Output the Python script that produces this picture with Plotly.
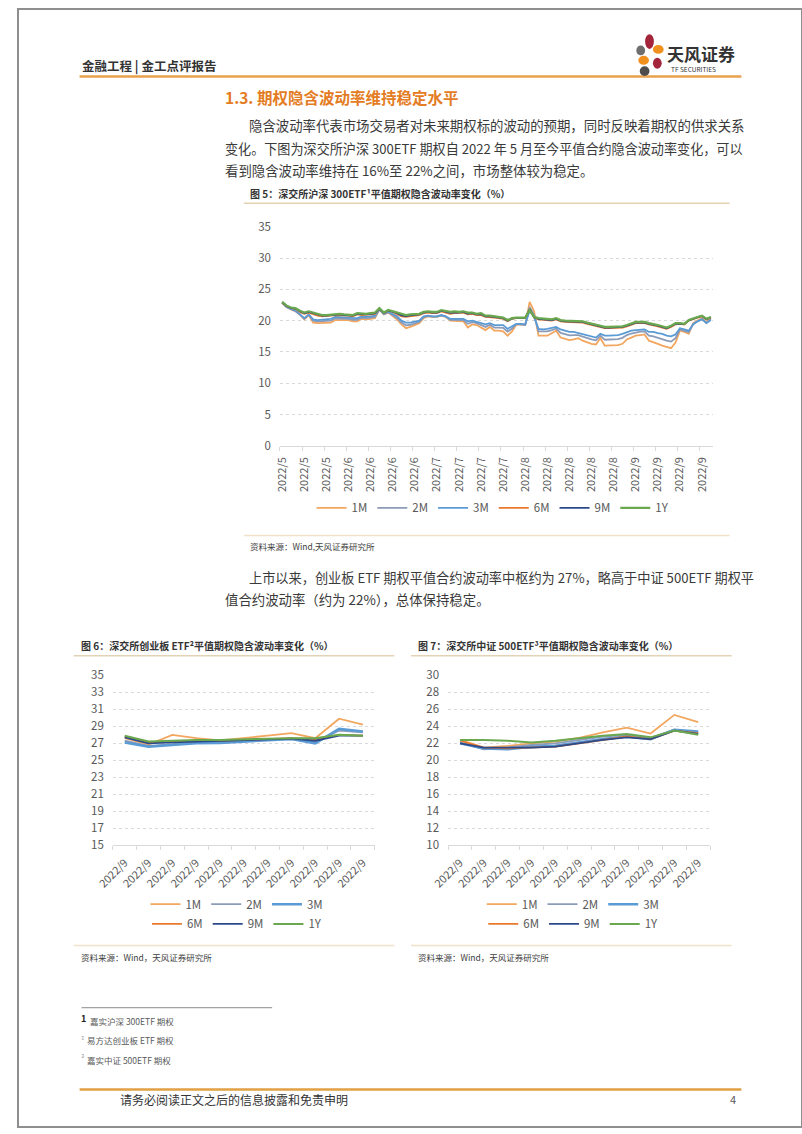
import plotly.graph_objects as go

W, H = 802, 1134
FONT = "Noto Sans CJK SC, Noto Sans, sans-serif"


def px(x):
    return x / W


def py(y):
    return 1 - y / H


# ---------------- data: chart 5 (300ETF, ~98 trading days) ----------------
x300 = list(range(98))
month_labels_300 = ["2022/5"] * 3 + ["2022/6"] * 4 + ["2022/7"] * 4 + ["2022/8"] * 5 + ["2022/9"] * 4
tick_pos_300 = list(range(0, 98, 5))

s300_1M = [22.8, 22.2, 21.8, 21.5, 21.0, 20.2, 20.9, 19.7, 19.6, 19.6,
           19.6, 19.7, 20.1, 20.1, 20.0, 20.1, 19.9, 19.9, 20.3, 20.2,
           20.3, 20.4, 21.8, 21.0, 21.3, 20.8, 20.2, 19.4, 18.8, 19.0,
           19.3, 19.6, 20.4, 20.7, 20.6, 20.6, 20.8, 20.6, 20.0, 20.0,
           20.0, 19.9, 18.9, 19.4, 19.3, 18.9, 18.5, 19.0, 18.4, 18.4,
           18.3, 17.6, 18.3, 19.4, 19.4, 19.3, 23.0, 21.5, 17.6, 17.6,
           17.6, 18.0, 18.4, 17.3, 17.1, 16.9, 17.0, 17.2, 16.8, 16.5,
           16.3, 16.2, 17.2, 16.0, 16.0, 16.0, 16.1, 16.3, 17.0, 17.3,
           17.6, 17.7, 17.8, 16.8, 16.6, 16.3, 16.0, 15.8, 15.6, 16.5,
           18.4, 18.2, 17.9, 19.6, 20.0, 20.4, 19.7, 20.4]
s300_2M = [22.85, 22.2, 21.85, 21.55, 21.0, 20.3, 20.95, 20.0, 19.9, 19.9,
           19.9, 20.0, 20.35, 20.35, 20.25, 20.3, 20.15, 20.15, 20.5, 20.4,
           20.5, 20.6, 21.8, 21.05, 21.35, 20.9, 20.45, 19.7, 19.25, 19.35,
           19.55, 19.8, 20.55, 20.75, 20.65, 20.65, 20.85, 20.65, 20.15, 20.15,
           20.2, 20.1, 19.5, 19.75, 19.6, 19.3, 19.0, 19.35, 18.9, 18.9,
           18.85, 18.25, 18.75, 19.45, 19.45, 19.35, 22.2, 20.9, 18.3, 18.25,
           18.3, 18.5, 18.75, 18.05, 17.85, 17.65, 17.7, 17.7, 17.45, 17.2,
           17.0, 16.85, 17.6, 16.95, 16.95, 16.95, 17.05, 17.25, 17.7, 17.95,
           18.15, 18.25, 18.3, 17.6, 17.5, 17.25, 17.05, 16.8, 16.65, 17.2,
           18.6, 18.4, 18.15, 19.5, 19.95, 20.3, 19.65, 20.25]
s300_3M = [22.9, 22.2, 21.9, 21.6, 21.0, 20.4, 21.0, 20.2, 20.1, 20.2,
           20.2, 20.3, 20.6, 20.6, 20.5, 20.5, 20.4, 20.4, 20.7, 20.6,
           20.7, 20.8, 21.8, 21.1, 21.4, 21.0, 20.7, 20.0, 19.7, 19.7,
           19.8, 20.0, 20.7, 20.8, 20.7, 20.7, 20.9, 20.7, 20.3, 20.3,
           20.4, 20.3, 19.9, 20.0, 19.8, 19.6, 19.4, 19.6, 19.3, 19.3,
           19.3, 18.7, 19.1, 19.5, 19.5, 19.4, 21.6, 20.6, 18.7, 18.6,
           18.7, 18.8, 19.0, 18.6, 18.4, 18.2, 18.2, 18.0, 17.9, 17.7,
           17.5, 17.3, 17.9, 17.6, 17.6, 17.6, 17.7, 17.9, 18.2, 18.4,
           18.5, 18.6, 18.6, 18.2, 18.2, 18.0, 17.9, 17.6, 17.5, 17.8,
           18.8, 18.6, 18.4, 19.4, 19.9, 20.2, 19.6, 20.1]
s300_6M = [22.9, 22.3, 22.0, 21.9, 21.4, 21.1, 21.3, 21.0, 20.8, 20.7,
           20.7, 20.8, 20.9, 20.9, 20.8, 20.8, 20.7, 21.0, 20.9, 20.9,
           21.0, 21.1, 21.9, 21.2, 21.6, 21.4, 21.1, 20.7, 20.6, 20.7,
           20.8, 20.9, 21.2, 21.3, 21.2, 21.2, 21.5, 21.3, 21.1, 21.2,
           21.2, 21.3, 21.0, 21.1, 20.9, 20.9, 20.6, 20.6, 20.5, 20.4,
           20.3, 19.9, 20.3, 20.4, 20.4, 20.4, 21.9, 20.5, 20.2, 20.1,
           20.0, 20.0, 20.2, 19.9, 19.8, 19.8, 19.7, 19.7, 19.7, 19.5,
           19.3, 19.2, 19.0, 18.8, 18.8, 18.8, 18.8, 18.9, 19.1, 19.4,
           19.6, 19.6, 19.6, 19.4, 19.3, 19.1, 18.9, 18.7, 19.0, 19.4,
           19.5, 19.4, 20.0, 20.3, 20.5, 20.7, 20.2, 20.5]
s300_9M = [22.95, 22.35, 22.05, 21.95, 21.5, 21.2, 21.4, 21.2, 20.9, 20.8,
           20.8, 20.9, 21.0, 21.0, 20.9, 20.9, 20.8, 21.1, 21.0, 21.0,
           21.1, 21.2, 21.9, 21.25, 21.65, 21.45, 21.2, 20.85, 20.75, 20.85,
           20.9, 21.0, 21.3, 21.4, 21.3, 21.3, 21.6, 21.4, 21.25, 21.35,
           21.3, 21.4, 21.15, 21.2, 21.0, 21.05, 20.7, 20.7, 20.6, 20.5,
           20.4, 20.0, 20.35, 20.45, 20.45, 20.45, 21.8, 20.55, 20.3, 20.2,
           20.1, 20.1, 20.3, 20.0, 19.9, 19.9, 19.85, 19.8, 19.8, 19.6,
           19.4, 19.3, 19.1, 18.9, 18.9, 18.9, 18.9, 19.0, 19.2, 19.5,
           19.7, 19.7, 19.7, 19.5, 19.4, 19.2, 19.0, 18.8, 19.1, 19.5,
           19.55, 19.45, 20.05, 20.35, 20.55, 20.75, 20.25, 20.55]
s300_1Y = [23.0, 22.4, 22.1, 22.0, 21.6, 21.3, 21.5, 21.3, 21.0, 20.9,
           20.9, 21.0, 21.1, 21.1, 21.0, 21.0, 20.9, 21.2, 21.1, 21.1,
           21.2, 21.3, 22.0, 21.3, 21.7, 21.5, 21.3, 21.0, 20.9, 21.0,
           21.0, 21.1, 21.4, 21.5, 21.4, 21.4, 21.7, 21.5, 21.4, 21.5,
           21.4, 21.5, 21.3, 21.3, 21.1, 21.2, 20.8, 20.8, 20.7, 20.6,
           20.5, 20.1, 20.4, 20.5, 20.5, 20.5, 21.7, 20.6, 20.4, 20.3,
           20.2, 20.2, 20.4, 20.1, 20.0, 20.0, 20.0, 19.9, 19.9, 19.7,
           19.5, 19.4, 19.2, 19.0, 19.0, 19.0, 19.0, 19.1, 19.3, 19.6,
           19.8, 19.8, 19.8, 19.6, 19.5, 19.3, 19.1, 18.9, 19.2, 19.6,
           19.6, 19.5, 20.1, 20.4, 20.6, 20.8, 20.3, 20.6]

# ---------------- data: chart 6 (创业板 ETF) ----------------
x_small = list(range(11))
labels_small = ["2022/9"] * 11
cyb_1M = [27.6, 26.85, 28.0, 27.6, 27.35, 27.6, 27.9, 28.2, 27.6, 29.9, 29.2]
cyb_2M = [27.3, 26.7, 26.9, 27.1, 27.15, 27.3, 27.4, 27.5, 27.2, 28.5, 28.3]
cyb_3M = [27.1, 26.6, 26.8, 27.0, 27.05, 27.2, 27.4, 27.5, 27.0, 28.7, 28.4]
cyb_6M = [27.8, 27.1, 27.2, 27.3, 27.3, 27.4, 27.5, 27.6, 27.5, 28.0, 27.9]
cyb_9M = [27.7, 27.0, 27.1, 27.2, 27.3, 27.35, 27.45, 27.55, 27.3, 27.9, 27.9]
cyb_1Y = [27.9, 27.2, 27.3, 27.4, 27.4, 27.5, 27.55, 27.6, 27.6, 28.0, 27.9]

# ---------------- data: chart 7 (中证 500ETF) ----------------
zz_1M = [22.4, 21.5, 21.7, 22.0, 22.2, 22.65, 23.3, 23.85, 23.15, 25.35, 24.5]
zz_2M = [22.1, 21.3, 21.5, 21.8, 22.0, 22.4, 22.8, 23.0, 22.6, 23.6, 23.3]
zz_3M = [22.0, 21.4, 21.3, 21.6, 21.7, 22.1, 22.5, 22.8, 22.5, 23.6, 23.4]
zz_6M = [22.3, 21.5, 21.4, 21.5, 21.6, 22.0, 22.4, 22.8, 22.5, 23.5, 23.2]
zz_9M = [22.0, 21.5, 21.5, 21.5, 21.6, 22.0, 22.4, 22.7, 22.5, 23.5, 23.1]
zz_1Y = [22.4, 22.4, 22.3, 22.1, 22.3, 22.6, 22.9, 23.1, 22.7, 23.5, 23.0]

series_names = ["1M", "2M", "3M", "6M", "9M", "1Y"]
colors = ["#F2A65E", "#8C9BB8", "#5B9BD5", "#E8792F", "#2C4A8A", "#6AA84F"]
widths_big = [1.8, 1.8, 1.8, 1.8, 1.8, 2.2]
widths_small = [1.8, 1.8, 2.6, 1.8, 1.8, 2.0]

fig = go.Figure()

for name, ys, c, w in zip(series_names,
                          [s300_1M, s300_2M, s300_3M, s300_6M, s300_9M, s300_1Y],
                          colors, widths_big):
    fig.add_trace(go.Scatter(x=x300, y=ys, name=name, mode="lines",
                             line=dict(color=c, width=w),
                             xaxis="x", yaxis="y", legend="legend"))

for k, (name, ys, c, w) in enumerate(zip(series_names,
                                         [cyb_1M, cyb_2M, cyb_3M, cyb_6M, cyb_9M, cyb_1Y],
                                         colors, widths_small)):
    fig.add_trace(go.Scatter(x=x_small, y=ys, name=name, mode="lines",
                             line=dict(color=c, width=w),
                             xaxis="x2", yaxis="y2",
                             legend="legend2" if k < 3 else "legend3"))

for k, (name, ys, c, w) in enumerate(zip(series_names,
                                         [zz_1M, zz_2M, zz_3M, zz_6M, zz_9M, zz_1Y],
                                         colors, widths_small)):
    fig.add_trace(go.Scatter(x=x_small, y=ys, name=name, mode="lines",
                             line=dict(color=c, width=w),
                             xaxis="x3", yaxis="y3",
                             legend="legend4" if k < 3 else "legend5"))

TICKFONT = dict(family=FONT, size=11.5, color="#595959")
GRID = dict(showgrid=True, gridcolor="#D9D9D9", griddash="dot", gridwidth=1)


def xaxis_cfg(domain, tickvals, ticktext, rng, angle, minor_vals, size, anchor):
    return dict(domain=domain, range=rng, tickmode="array", tickvals=tickvals,
                ticktext=ticktext, tickangle=angle, showgrid=False, zeroline=False,
                showline=True, linecolor="#D9D9D9", linewidth=1, ticks="",
                ticklabelstandoff=6, tickfont=dict(family=FONT, size=size, color="#595959"),
                minor=dict(tickmode="array", tickvals=minor_vals, ticks="outside",
                           ticklen=4, tickcolor="#D9D9D9", tickwidth=1, showgrid=False),
                anchor=anchor, fixedrange=True)


def yaxis_cfg(domain, rng, dtick, anchor):
    d = dict(domain=domain, range=rng, dtick=dtick, tick0=rng[0], zeroline=False,
             showline=False, ticks="", ticklabelstandoff=8, tickfont=TICKFONT,
             anchor=anchor, fixedrange=True)
    d.update(GRID)
    return d


minor300 = [v - 0.5 for v in range(0, 100, 5)]
minor_small = [v - 0.5 for v in range(0, 12)]

fig.update_layout(
    width=W, height=H,
    margin=dict(l=0, r=0, t=0, b=0),
    paper_bgcolor="white", plot_bgcolor="white",
    font=dict(family=FONT, color="#333333"),
    xaxis=xaxis_cfg([px(268), px(711)], tick_pos_300,
                    [month_labels_300[i] for i in range(20)], [-0.5, 97.5], -90, minor300, 11, "y"),
    yaxis=yaxis_cfg([py(443), py(221)], [0, 35], 5, "x"),
    xaxis2=xaxis_cfg([px(97), px(365)], x_small, labels_small, [-0.5, 10.5], -45, minor_small, 11, "y2"),
    yaxis2=yaxis_cfg([py(848), py(676)], [15, 35], 2, "x2"),
    xaxis3=xaxis_cfg([px(440), px(708)], x_small, labels_small, [-0.5, 10.5], -45, minor_small, 11, "y3"),
    yaxis3=yaxis_cfg([py(848), py(676)], [10, 30], 2, "x3"),
    showlegend=True,
)

LEGFONT = dict(family=FONT, size=11.5, color="#595959")


def leg(xc, yc):
    return dict(orientation="h", x=px(xc), xanchor="center", y=py(yc), yanchor="middle",
                font=LEGFONT, bgcolor="rgba(0,0,0,0)", itemwidth=30, tracegroupgap=0,
                itemclick=False, itemdoubleclick=False)


fig.update_layout(legend=leg(486, 506), legend2=leg(224, 908), legend3=leg(224, 928),
                  legend4=leg(568, 908), legend5=leg(568, 928))

ann = []


def text(x, y, s, size, color="#333333", bold=False, anchor="left"):
    ann.append(dict(x=px(x), y=py(y), xref="paper", yref="paper", xanchor=anchor,
                    yanchor="middle", showarrow=False,
                    text=("<b>%s</b>" % s) if bold else s,
                    font=dict(family=FONT, size=size, color=color)))


# header
text(63, 57, "金融工程 | 金工点评报告", 12.5, "#333333", True)
text(662, 45, "天风证券", 17, "#333333", True)
text(666, 61, "TF SECURITIES", 6.5, "#333333")
# section title
text(210, 89, "1.3. 期权隐含波动率维持稳定水平", 15.5, "#E47C23", True)
# paragraph 1
text(234, 118, "隐含波动率代表市场交易者对未来期权标的波动的预期，同时反映着期权的供求关系", 13.4, "#3A3A3A")
text(210, 141, "变化。下图为深交所沪深 300ETF 期权自 2022 年 5 月至今平值合约隐含波动率变化，可以", 13.1, "#3A3A3A")
text(210, 163, "看到隐含波动率维持在 16%至 22%之间，市场整体较为稳定。", 13.4, "#3A3A3A")
# figure 5 title / source
text(235, 187, "图 5：深交所沪深 300ETF¹平值期权隐含波动率变化（%）", 10, "#333333", True)
text(235, 545, "资料来源：Wind,天风证券研究所", 8.5, "#404040")
# paragraph 2
text(234, 577, "上市以来，创业板 ETF 期权平值合约波动率中枢约为 27%，略高于中证 500ETF 期权平", 13.2, "#3A3A3A")
text(210, 598, "值合约波动率（约为 22%），总体保持稳定。", 13.4, "#3A3A3A")
# figure 6/7 titles and sources
text(62, 646, "图 6：深交所创业板 ETF²平值期权隐含波动率变化（%）", 10, "#333333", True)
text(407, 646, "图 7：深交所中证 500ETF³平值期权隐含波动率变化（%）", 10, "#333333", True)
text(62, 962, "资料来源：Wind，天风证券研究所", 8.5, "#404040")
text(407, 962, "资料来源：Wind，天风证券研究所", 8.5, "#404040")
# footnotes
text(62, 1024, "<b>1</b>", 9, "#222222")
text(72, 1026, "嘉实沪深 300ETF 期权", 8.5, "#595959")
text(62, 1045, "²", 8, "#999999")
text(69, 1046, "易方达创业板 ETF 期权", 8.5, "#595959")
text(62, 1065, "³", 8, "#999999")
text(69, 1066, "嘉实中证 500ETF 期权", 8.5, "#595959")
# footer
text(102, 1106, "请务必阅读正文之后的信息披露和免责申明", 12, "#333333")
text(737, 1106, "4", 11, "#595959", anchor="right")

shapes = []


def hline(x0, x1, y, color, width):
    shapes.append(dict(type="line", xref="paper", yref="paper", x0=px(x0), x1=px(x1),
                       y0=py(y), y1=py(y), line=dict(color=color, width=width)))


hline(63, 740, 68.5, "#E9A24B", 2.5)
hline(231, 728, 197, "#E3D3B4", 1.5)
hline(231, 728, 534, "#EFE2C8", 1.5)
hline(57, 385, 656, "#E3D3B4", 1.5)
hline(402, 730, 656, "#E3D3B4", 1.5)
hline(57, 385, 950, "#EFE2C8", 1.5)
hline(402, 730, 950, "#EFE2C8", 1.5)
hline(65, 260, 1013, "#8C8C8C", 1)
hline(63, 740, 1096, "#E0A045", 2.5)

# logo petals
petals = [
    (646, 33, 4.5, 7.5, "#A3243B"),
    (655, 41, 5.5, 4.5, "#F0901E"),
    (637, 42, 4.5, 5, "#6E6E6E"),
    (640, 52, 5.5, 4.5, "#F0901E"),
    (654, 55, 4.5, 5.5, "#A3243B"),
    (641, 63, 5, 5, "#4D4D4D"),
]
for cx, cy, rx, ry, col in petals:
    shapes.append(dict(type="circle", xref="paper", yref="paper",
                       x0=px(cx - rx), x1=px(cx + rx), y0=py(cy + ry), y1=py(cy - ry),
                       fillcolor=col, line=dict(width=0)))

# page frame
shapes.append(dict(type="rect", xref="paper", yref="paper", x0=0, x1=1, y0=0, y1=1,
                   line=dict(color="#8F8F8F", width=2), fillcolor="rgba(0,0,0,0)"))

fig.update_layout(annotations=ann, shapes=shapes)

fig.write_html("out.html", config={"displayModeBar": False, "staticPlot": True},
               post_script="document.body.style.margin='0';document.body.style.overflow='hidden';")
